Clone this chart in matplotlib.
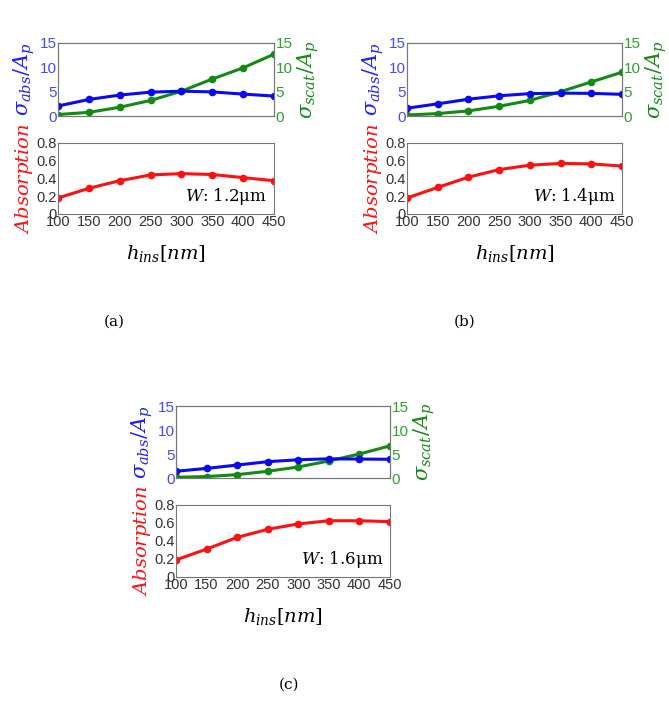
import matplotlib.pyplot as plt

plt.rcParams['font.family'] = ['Liberation Sans', 'DejaVu Sans']
plt.rcParams['mathtext.fontset'] = 'dejavuserif'

h_ins = [100, 150, 200, 250, 300, 350, 400, 450]

# panel (a) W = 1.2 um
abs_a = [2.05, 3.4, 4.3, 4.9, 5.1, 4.95, 4.5, 4.1]
scat_a = [0.3, 0.75, 1.8, 3.2, 5.1, 7.6, 9.9, 12.7]
absorp_a = [0.18, 0.29, 0.375, 0.44, 0.455, 0.445, 0.41, 0.375]

# panel (b) W = 1.4 um
abs_b = [1.6, 2.5, 3.45, 4.15, 4.6, 4.7, 4.65, 4.45]
scat_b = [0.2, 0.5, 1.05, 2.0, 3.2, 5.0, 7.0, 9.0]
absorp_b = [0.18, 0.30, 0.415, 0.50, 0.55, 0.57, 0.565, 0.54]

# panel (c) W = 1.6 um
abs_c = [1.4, 2.0, 2.7, 3.4, 3.8, 4.0, 3.95, 3.9]
scat_c = [0.15, 0.3, 0.7, 1.4, 2.3, 3.55, 5.0, 6.7]
absorp_c = [0.19, 0.31, 0.44, 0.53, 0.59, 0.625, 0.625, 0.615]

panels = [
    (abs_a, scat_a, absorp_a, '$W$: 1.2μm', '(a)'),
    (abs_b, scat_b, absorp_b, '$W$: 1.4μm', '(b)'),
    (abs_c, scat_c, absorp_c, '$W$: 1.6μm', '(c)'),
]

# pixel boxes: left, right, top-axes top, top-axes bottom, bottom-axes top, bottom-axes bottom
boxes = [
    (58, 274, 43, 116, 143, 214),
    (407, 622, 43, 116, 143, 214),
    (176, 390, 406, 478, 505, 577),
]
captions = [(114, 322), (465, 322), (289, 685)]

W, H = 669, 711
fig = plt.figure(figsize=(W / 100, H / 100), dpi=100)
gray = '#555555'
green = '#138a13'


def style(ax):
    for s in ax.spines.values():
        s.set_color('#777777')
        s.set_linewidth(0.8)
    ax.tick_params(direction='in', length=0, labelsize=11, pad=1, colors=gray)


for (sa, ss, ab, wtext, cap), (l, r, t1, b1, t2, b2), (cx, cy) in zip(panels, boxes, captions):
    ax1 = fig.add_axes([l / W, 1 - b1 / H, (r - l) / W, (b1 - t1) / H])
    ax1.plot(h_ins, sa, '-o', color='#0a0af0', lw=2.2, ms=4.5)
    ax1.set_xlim(100, 450)
    ax1.set_ylim(0, 15)
    ax1.set_yticks([0, 5, 10, 15])
    ax1.set_xticks([])
    style(ax1)
    ax1.tick_params(axis='y', colors='#4848ff')
    ax1.set_ylabel(r'$\sigma_{abs}/A_p$', color='#2020ff', fontsize=15, labelpad=2)

    ax2 = ax1.twinx()
    ax2.plot(h_ins, ss, '-o', color=green, lw=2.2, ms=4.5)
    ax2.set_ylim(0, 15)
    ax2.set_yticks([0, 5, 10, 15])
    style(ax2)
    ax2.tick_params(axis='y', colors='#30a030')
    ax2.set_ylabel(r'$\sigma_{scat}/A_p$', color=green, fontsize=15, labelpad=2)
    ax1.set_zorder(ax2.get_zorder() + 1)
    ax1.patch.set_visible(False)

    ax3 = fig.add_axes([l / W, 1 - b2 / H, (r - l) / W, (b2 - t2) / H])
    ax3.plot(h_ins, ab, '-o', color='#ff1010', lw=2.2, ms=4.5)
    ax3.set_xlim(100, 450)
    ax3.set_ylim(0, 0.8)
    ax3.set_xticks(h_ins)
    ax3.set_yticks([0, 0.2, 0.4, 0.6, 0.8])
    ax3.set_yticklabels(['0', '0.2', '0.4', '0.6', '0.8'])
    style(ax3)
    ax3.tick_params(colors='#333333', labelsize=10.5)
    ax3.set_ylabel(r'$Absorption$', color='#ff1010', fontsize=14, labelpad=1)
    ax3.set_xlabel(r'$h_{ins}[nm]$', fontsize=14, labelpad=10)
    ax3.text(0.97, 0.1, wtext, transform=ax3.transAxes, ha='right', va='bottom',
             fontsize=12, family=['DejaVu Serif'])

    fig.text(cx / W, 1 - cy / H, cap, ha='center', va='center', fontsize=11,
             family=['DejaVu Serif'])

fig.savefig('out.png', dpi=100)
